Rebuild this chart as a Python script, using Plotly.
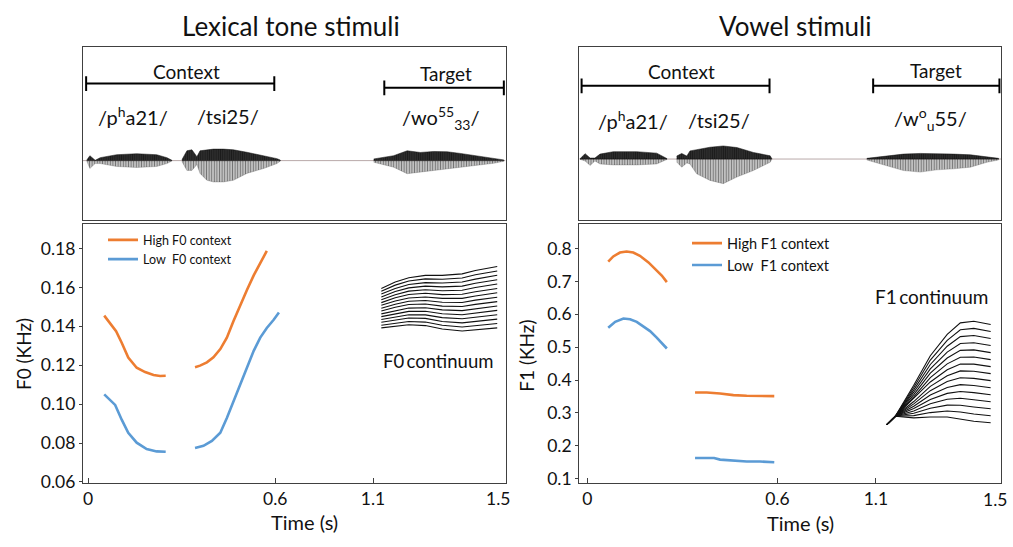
import numpy as np
import plotly.graph_objects as go

# ---------------- axis (broken time axis as drawn) ----------------
TICK_T = [0, 0.6, 1.1, 1.5]
TICK_TEXT = ["0", "0.6", "1.1", "1.5"]
POS_L = [0, 187, 284.7, 417]      # display positions of the time ticks, left panel
POS_R = [0, 190, 288.4, 413.4]    # display positions of the time ticks, right panel

# ---------------- F0 (lexical tone) data, kHz ----------------
F0_HIGH_T1 = [0.052, 0.071, 0.090, 0.108, 0.129, 0.156, 0.183, 0.210, 0.231, 0.249]
F0_HIGH_V1 = [0.1455, 0.1417, 0.1375, 0.1316, 0.1240, 0.1187, 0.1165, 0.1150, 0.1145, 0.1146]
F0_HIGH_T2 = [0.343, 0.359, 0.381, 0.402, 0.424, 0.445, 0.466, 0.488, 0.509, 0.531, 0.552, 0.573]
F0_HIGH_V2 = [0.1190, 0.1198, 0.1215, 0.1241, 0.1283, 0.1342, 0.1426, 0.1510, 0.1586, 0.1662, 0.1729, 0.1788]
F0_LOW_T1 = [0.052, 0.087, 0.108, 0.129, 0.156, 0.188, 0.220, 0.249]
F0_LOW_V1 = [0.1050, 0.0996, 0.0920, 0.0853, 0.0802, 0.0769, 0.0757, 0.0755]
F0_LOW_T2 = [0.343, 0.370, 0.397, 0.424, 0.445, 0.466, 0.488, 0.509, 0.531, 0.552, 0.573, 0.595, 0.619]
F0_LOW_V2 = [0.0775, 0.0786, 0.0811, 0.0853, 0.0929, 0.1013, 0.1106, 0.1190, 0.1274, 0.1342, 0.1392, 0.1434, 0.1471]

F0_CONT_T = [1.125, 1.167, 1.208, 1.258, 1.309, 1.369, 1.409, 1.475]
F0_CONT = [
    [.1392, .1400, .1408, .1404, .1386, .1376, .1382, .1392],
    [.1406, .1416, .1425, .1422, .1406, .1397, .1404, .1415],
    [.1421, .1433, .1443, .1441, .1425, .1418, .1426, .1437],
    [.1435, .1449, .1460, .1459, .1445, .1439, .1447, .1460],
    [.1450, .1465, .1477, .1478, .1465, .1460, .1469, .1482],
    [.1464, .1481, .1494, .1496, .1485, .1481, .1491, .1505],
    [.1479, .1498, .1512, .1515, .1504, .1502, .1513, .1527],
    [.1493, .1514, .1529, .1533, .1524, .1523, .1535, .1550],
    [.1508, .1530, .1546, .1551, .1544, .1544, .1556, .1573],
    [.1522, .1547, .1564, .1570, .1563, .1565, .1578, .1595],
    [.1537, .1563, .1581, .1588, .1583, .1586, .1600, .1618],
    [.1551, .1579, .1598, .1607, .1603, .1607, .1622, .1640],
    [.1566, .1595, .1615, .1625, .1623, .1628, .1643, .1663],
    [.1580, .1612, .1633, .1644, .1642, .1649, .1665, .1685],
    [.1595, .1628, .1650, .1662, .1662, .1670, .1687, .1708],
]

# ---------------- F1 (vowel) data, kHz ----------------
F1_HIGH_T1 = [0.066, 0.082, 0.103, 0.124, 0.145, 0.166, 0.193, 0.219, 0.235, 0.251]
F1_HIGH_V1 = [0.760, 0.776, 0.788, 0.791, 0.788, 0.778, 0.758, 0.733, 0.718, 0.698]
F1_HIGH_T2 = [0.340, 0.377, 0.419, 0.461, 0.503, 0.545, 0.590]
F1_HIGH_V2 = [0.362, 0.362, 0.359, 0.354, 0.352, 0.351, 0.351]
F1_LOW_T1 = [0.066, 0.088, 0.114, 0.135, 0.156, 0.177, 0.198, 0.219, 0.240, 0.251]
F1_LOW_V1 = [0.559, 0.577, 0.587, 0.585, 0.577, 0.564, 0.549, 0.529, 0.509, 0.496]
F1_LOW_T2 = [0.340, 0.400, 0.419, 0.461, 0.503, 0.545, 0.590]
F1_LOW_V2 = [0.163, 0.163, 0.158, 0.154, 0.152, 0.152, 0.150]

F1_CONT_T = [1.135, 1.162, 1.221, 1.274, 1.328, 1.370, 1.413, 1.467]
F1_CONT = [
    [.2646, .2898, .2848, .2877, .2877, .2818, .2748, .2699],
    [.2646, .2898, .2919, .3010, .3056, .3027, .2965, .2913],
    [.2646, .2898, .2990, .3143, .3236, .3235, .3182, .3126],
    [.2646, .2898, .3061, .3276, .3415, .3444, .3399, .3340],
    [.2646, .2898, .3132, .3409, .3595, .3652, .3616, .3553],
    [.2646, .2898, .3204, .3543, .3774, .3861, .3834, .3767],
    [.2646, .2898, .3275, .3676, .3953, .4070, .4051, .3981],
    [.2646, .2898, .3346, .3809, .4133, .4278, .4268, .4194],
    [.2646, .2898, .3417, .3942, .4312, .4487, .4485, .4408],
    [.2646, .2898, .3488, .4075, .4492, .4695, .4702, .4621],
    [.2646, .2898, .3559, .4208, .4671, .4904, .4919, .4835],
    [.2646, .2898, .3630, .4341, .4850, .5113, .5136, .5049],
    [.2646, .2898, .3701, .4474, .5030, .5321, .5353, .5262],
    [.2646, .2898, .3773, .4607, .5209, .5530, .5571, .5476],
    [.2646, .2898, .3844, .4741, .5389, .5739, .5787, .5689],
]

# ---------------- waveform envelopes (relative amplitude) ----------------
WAVE_L = [
    ([-0.004, 0.006, 0.023, 0.039, 0.092, 0.156, 0.220, 0.253, 0.269],
     [0.05, 0.50, 0.03, 0.30, 0.60, 0.70, 0.60, 0.30, 0.03],
     [-0.05, -0.80, -0.30, -0.30, -0.60, -0.70, -0.60, -0.30, -0.03]),
    ([0.301, 0.317, 0.333, 0.349, 0.359, 0.381, 0.402, 0.434, 0.466, 0.509, 0.563, 0.609, 0.626],
     [0.10, 1.00, 1.10, 0.40, 1.00, 1.10, 1.17, 1.17, 1.10, 0.85, 0.50, 0.20, 0.05],
     [-0.10, -1.00, -1.00, -0.40, -1.30, -2.00, -2.17, -2.17, -2.00, -1.30, -0.80, -0.30, -0.05]),
    ([1.102, 1.162, 1.203, 1.243, 1.283, 1.324, 1.364, 1.414, 1.465, 1.495],
     [0.17, 0.50, 1.00, 0.83, 0.93, 0.90, 0.73, 0.50, 0.27, 0.07],
     [-0.17, -0.67, -1.33, -1.17, -1.00, -0.83, -0.67, -0.50, -0.27, -0.07]),
]
WAVE_R = [
    ([-0.023, -0.007, 0.009, 0.024, 0.040, 0.082, 0.156, 0.219, 0.251],
     [0.03, 0.55, 0.10, 0.10, 0.50, 0.75, 0.75, 0.60, 0.05],
     [-0.03, -0.20, -0.65, -0.20, -0.50, -0.60, -0.60, -0.50, -0.05]),
    ([0.282, 0.298, 0.314, 0.324, 0.345, 0.387, 0.429, 0.472, 0.524, 0.577, 0.582],
     [0.30, 0.57, 0.30, 0.83, 0.95, 1.20, 1.33, 1.17, 0.67, 0.33, 0.05],
     [-0.30, -0.83, -0.40, -0.50, -1.50, -2.17, -2.50, -1.83, -1.17, -0.33, -0.05]),
    ([1.054, 1.135, 1.188, 1.242, 1.295, 1.348, 1.402, 1.455, 1.492],
     [0.07, 0.33, 0.50, 0.57, 0.57, 0.50, 0.43, 0.23, 0.07],
     [-0.10, -0.67, -1.17, -1.33, -1.10, -1.00, -0.83, -0.33, -0.10]),
]

ORANGE = "#ED7D31"
BLUE = "#5B9BD5"
FONT = "Lato"
TXT = "#111111"
AX = "#404040"
W, H = 1013, 547


def scale(t, pos):
    t = np.asarray(t, dtype=float)
    out = np.interp(t, TICK_T, pos)
    lo = t < TICK_T[0]
    out[lo] = pos[0] + (t[lo] - TICK_T[0]) * (pos[1] - pos[0]) / (TICK_T[1] - TICK_T[0])
    hi = t > TICK_T[-1]
    out[hi] = pos[-1] + (t[hi] - TICK_T[-1]) * (pos[-1] - pos[-2]) / (TICK_T[-1] - TICK_T[-2])
    return out


def px(x0, x1):
    return [x0 / W, x1 / W]


def py(y_top, y_bot):
    return [1 - y_bot / H, 1 - y_top / H]


fig = go.Figure()

# ---------------- waveforms: dense upper half, striated lower half ----------------
for waves, pos, xa, ya in [(WAVE_L, POS_L, "x", "y"), (WAVE_R, POS_R, "x3", "y3")]:
    for t, up, lo in waves:
        xs = list(scale(t, pos))
        zeros = [0.0] * len(xs)
        fig.add_trace(go.Scatter(
            x=xs + xs[::-1], y=list(lo) + zeros,
            mode="lines", fill="toself", line=dict(color="rgba(60,60,60,0.6)", width=0.4),
            fillcolor="rgba(110,110,110,0.55)",
            fillpattern=dict(shape="|", size=2.6, solidity=0.5, fgcolor="#111111",
                             bgcolor="rgba(170,170,170,0.45)"),
            xaxis=xa, yaxis=ya, showlegend=False, hoverinfo="skip"))
        fig.add_trace(go.Scatter(
            x=xs + xs[::-1], y=list(up) + zeros,
            mode="lines", fill="toself", line=dict(color="#111", width=0.5),
            fillcolor="rgba(10,10,10,0.95)",
            fillpattern=dict(shape="|", size=2.2, solidity=0.6, fgcolor="#000000",
                             bgcolor="rgba(45,45,45,0.95)"),
            xaxis=xa, yaxis=ya, showlegend=False, hoverinfo="skip"))


def add_line(t, v, pos, color, xa, ya, name=None, legend=None, width=2.6):
    fig.add_trace(go.Scatter(
        x=scale(t, pos), y=v, mode="lines", line=dict(color=color, width=width),
        xaxis=xa, yaxis=ya, name=name or "", showlegend=name is not None,
        legend=legend or "legend", hoverinfo="skip"))


add_line(F0_HIGH_T1, F0_HIGH_V1, POS_L, ORANGE, "x2", "y2", "High F0 context", "legend")
add_line(F0_HIGH_T2, F0_HIGH_V2, POS_L, ORANGE, "x2", "y2")
add_line(F0_LOW_T1, F0_LOW_V1, POS_L, BLUE, "x2", "y2", "Low\u00a0\u00a0F0 context", "legend")
add_line(F0_LOW_T2, F0_LOW_V2, POS_L, BLUE, "x2", "y2")
for row in F0_CONT:
    add_line(F0_CONT_T, row, POS_L, "#111111", "x2", "y2", width=1.1)

add_line(F1_HIGH_T1, F1_HIGH_V1, POS_R, ORANGE, "x4", "y4", "High F1 context", "legend2")
add_line(F1_HIGH_T2, F1_HIGH_V2, POS_R, ORANGE, "x4", "y4")
add_line(F1_LOW_T1, F1_LOW_V1, POS_R, BLUE, "x4", "y4", "Low\u00a0\u00a0F1 context", "legend2")
add_line(F1_LOW_T2, F1_LOW_V2, POS_R, BLUE, "x4", "y4")
for row in F1_CONT:
    add_line(F1_CONT_T, row, POS_R, "#111111", "x4", "y4", width=1.1)

# ---------------- axes ----------------
box = dict(showline=True, mirror=True, linecolor=AX, linewidth=1.3, showgrid=False, zeroline=False)
notick = dict(showticklabels=False, ticks="")
tickfont = dict(family=FONT, size=17.5, color=TXT)

# the last time tick (1.5) sits on the frame; its label is drawn as an annotation below
fig.update_layout(
    xaxis=dict(domain=px(83, 505.5), range=[-5, 417], **box, **notick),
    yaxis=dict(domain=py(48, 224), range=[-6.07, 11.53], **box, **notick),
    xaxis2=dict(domain=px(83, 505.5), range=[-5, 417], anchor="y2", **box,
                tickvals=list(scale(TICK_T[:-1], POS_L)), ticktext=TICK_TEXT[:-1], ticks="inside",
                ticklen=5, tickcolor=AX, tickfont=tickfont),
    yaxis2=dict(domain=py(228, 491), range=[0.0595, 0.1925], anchor="x2", **box,
                tickvals=[0.06, 0.08, 0.10, 0.12, 0.14, 0.16, 0.18], tickformat=".2f",
                ticks="outside", ticklen=3, tickcolor=AX, tickfont=tickfont),
    xaxis3=dict(domain=px(579.3, 1001), range=[-8, 413.4], anchor="y3", **box, **notick),
    yaxis3=dict(domain=py(48, 224), range=[-6.23, 11.37], anchor="x3", **box, **notick),
    xaxis4=dict(domain=px(579.3, 1001), range=[-8, 413.4], anchor="y4", **box,
                tickvals=list(scale(TICK_T[:-1], POS_R)), ticktext=TICK_TEXT[:-1], ticks="inside",
                ticklen=5, tickcolor=AX, tickfont=tickfont),
    yaxis4=dict(domain=py(228, 491), range=[0.087, 0.874], anchor="x4", **box,
                tickvals=[0.1, 0.2, 0.3, 0.4, 0.5, 0.6, 0.7, 0.8], tickformat=".1f",
                ticks="outside", ticklen=3, tickcolor=AX, tickfont=tickfont),
)

# ---------------- shapes: baselines and brackets ----------------
shapes = []
for xa, ya, rng in [("x", "y", [-5, 417]), ("x3", "y3", [-8, 413.4])]:
    shapes.append(dict(type="line", xref=xa, yref=ya, x0=rng[0], x1=rng[1], y0=0, y1=0,
                       line=dict(color="#b9a9a9", width=1), layer="below"))

BRACKETS = [  # (axis, pos, t0, t1, y)
    ("x", "y", POS_L, -0.006, 0.597, 7.83),
    ("x", "y", POS_L, 1.134, 1.495, 7.40),
    ("x3", "y3", POS_R, -0.018, 0.575, 7.44),
    ("x3", "y3", POS_R, 1.086, 1.495, 7.44),
]
for xa, ya, pos, t0, t1, yv in BRACKETS:
    x0, x1 = scale([t0, t1], pos)
    shapes.append(dict(type="line", xref=xa, yref=ya, x0=x0, x1=x1, y0=yv, y1=yv,
                       line=dict(color="#000", width=2)))
    for xe in (x0, x1):
        shapes.append(dict(type="line", xref=xa, yref=ya, x0=xe, x1=xe, y0=yv - 0.75, y1=yv + 0.75,
                           line=dict(color="#000", width=2)))
fig.update_layout(shapes=shapes)

# ---------------- annotations ----------------
ann = []


def text(x, y, s, size, xref="paper", yref="paper", **kw):
    ann.append(dict(x=x, y=y, xref=xref, yref=yref, text=s, showarrow=False,
                    xanchor="center", yanchor="middle",
                    font=dict(family=FONT, size=size, color=TXT), **kw))


text(291 / W, 1 - 26 / H, "Lexical tone stimuli", 26)
text(795.5 / W, 1 - 26 / H, "Vowel stimuli", 26)

LABELS = [  # (xaxis, yaxis, pos, t, y, text, size)
    ("x", "y", POS_L, 0.317, 9.03, "Context", 19),
    ("x", "y", POS_L, 1.321, 8.83, "Target", 19),
    ("x", "y", POS_L, 0.144, 4.53, "/p<sup>h</sup>a21/", 20),
    ("x", "y", POS_L, 0.449, 4.53, "/tsi25/", 20),
    ("x", "y", POS_L, 1.304, 4.33, "/wo<sup>55</sup><sub>33</sub>/", 20),
    ("x3", "y3", POS_R, 0.298, 8.90, "Context", 19),
    ("x3", "y3", POS_R, 1.292, 8.97, "Target", 19),
    ("x3", "y3", POS_R, 0.144, 4.00, "/p<sup>h</sup>a21/", 20),
    ("x3", "y3", POS_R, 0.414, 4.00, "/tsi25/", 20),
    ("x3", "y3", POS_R, 1.274, 4.07, "/w<sup>o</sup><sub>u</sub>55/", 20),
    ("x2", "y2", POS_L, 1.297, 0.1224, "F0\u2009continuum", 18.5),
    ("x4", "y4", POS_R, 1.277, 0.6556, "F1\u2009continuum", 19),
]
for xa, ya, pos, t, yv, s, size in LABELS:
    text(float(scale([t], pos)[0]), yv, s, size, xref=xa, yref=ya)

# last tick label of each time axis, tucked inside the frame as in the original
text(497.5 / W, 1 - 507 / H, TICK_TEXT[-1], 17.5)
text(995 / W, 1 - 507.5 / H, TICK_TEXT[-1], 17.5)

text(23 / W, 1 - 360 / H, "F0 (KHz)", 19, textangle=-90)
text(527 / W, 1 - 361.7 / H, "F1 (KHz)", 19, textangle=-90)
text(304 / W, 1 - 531 / H, "Time (s)", 20)
text(800 / W, 1 - 531.5 / H, "Time (s)", 20)
fig.update_layout(annotations=ann)

# ---------------- legends & layout ----------------
fig.update_layout(
    width=W, height=H, margin=dict(l=0, r=0, t=0, b=0),
    paper_bgcolor="white", plot_bgcolor="white",
    font=dict(family=FONT, color=TXT),
    legend=dict(x=103 / W, y=1 - 229 / H, xanchor="left", yanchor="top",
                bgcolor="rgba(0,0,0,0)", font=dict(family=FONT, size=12.5, color=TXT),
                tracegroupgap=0, itemwidth=30),
    legend2=dict(x=687 / W, y=1 - 231 / H, xanchor="left", yanchor="top",
                 bgcolor="rgba(0,0,0,0)", font=dict(family=FONT, size=14.5, color=TXT),
                 tracegroupgap=0, itemwidth=30),
)

fig.write_html("out.html", config={"displayModeBar": False},
               post_script="document.body.style.margin='0px';document.documentElement.style.overflow='hidden';")
